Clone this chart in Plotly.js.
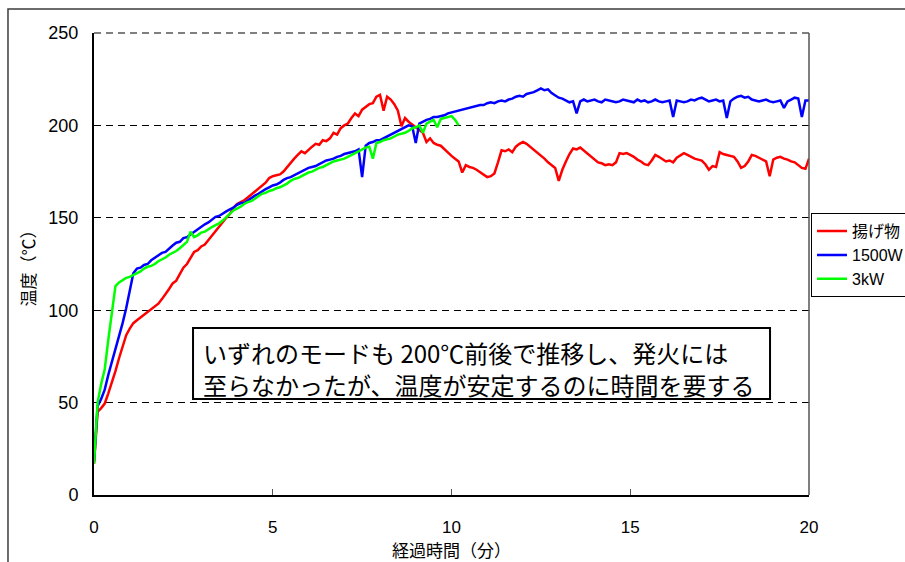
<!DOCTYPE html>
<html>
<head>
<meta charset="utf-8">
<script src="https://cdn.plot.ly/plotly-3.0.1.min.js"></script>
<style>
  html, body { margin: 0; padding: 0; background: #fff; }
  #chart { width: 905px; height: 562px; }
</style>
</head>
<body>
<div id="chart"></div>
<script>
// Temperature log sampled every 0.1 minute
const sampleStep = 0.1;

const seriesNames = ['揚げ物', '1500W', '3kW'];
const seriesColors = ['#ff0000', '#0000ff', '#00ff00'];

// 揚げ物 (0.0 – 20.0 min)
const tempFried = [
  17, 45, 47, 49.5, 55, 60.5, 67, 74, 80, 86.5,
  90, 93, 94.5, 96, 97, 98.5, 100, 101.5, 103.5, 106,
  108.5, 111.5, 114.5, 116, 119.5, 123, 125, 128, 131.5, 132.5,
  134.5, 135.5, 138, 140.5, 142.5, 145, 147.5, 150, 152, 155.5,
  157.5, 158.5, 159.5, 161, 162.5, 164.5, 166, 167.5, 169, 171.5,
  172.5, 173, 173.5, 175, 177.5, 179.5, 182, 184, 186, 185,
  187, 188.5, 190, 189.5, 192, 191.5, 193, 196, 195, 198.5,
  200, 201, 204, 206.5, 205, 208.5, 210, 211.5, 212, 215.5,
  216.5, 208, 215.5, 214, 211.5, 208, 199.5, 204, 202, 200.5,
  199, 197, 196, 191, 193, 190.5, 189.5, 189, 187, 185.5,
  183.5, 182, 180.5, 174.5, 178.5, 177.5, 177, 176, 174.5, 173,
  172, 172.5, 174, 180, 186.5, 186, 187, 185.5, 188.5, 190,
  191, 190, 188.5, 187, 185, 183.5, 182, 180, 178.5, 177,
  170, 176, 180.5, 184.5, 187.5, 187, 188, 186.5, 185, 183.5,
  182, 180, 179.5, 178.5, 179, 178.5, 180, 185, 184.5, 185,
  184, 183, 181.5, 180.5, 179, 178.5, 181, 184, 183, 181.5,
  180.5, 181, 180, 182.5, 184, 185, 184, 183, 182, 181.5,
  181, 179, 176, 178, 177.5, 185.5, 184.5, 184, 183.5, 183,
  180.5, 177, 178, 180.5, 184, 183.5, 182.5, 181.5, 180.5, 172.5,
  181.5, 182.5, 183, 182, 181.5, 180.5, 180, 178.5, 177, 176.5,
  182
];

// 1500W (0.0 – 20.0 min)
const temp1500W = [
  18, 48, 52, 57, 65, 72, 78, 85, 93, 101,
  111, 120, 122.5, 123, 124.5, 125, 127, 128.5, 129.5, 131,
  131.5, 133.5, 135, 136.5, 137, 139, 139.5, 141, 142.5, 144,
  145, 146.5, 147.5, 149, 150.5, 151, 152.5, 153.5, 154.5, 155.5,
  157, 158, 158, 159.5, 161, 162, 163, 164.5, 165.5, 166.5,
  167.5, 168, 169, 170.5, 171.5, 172, 173, 174, 175, 176,
  177, 177.5, 178, 179, 180, 181, 181.5, 182, 183, 183.5,
  184.5, 185, 185.5, 186, 187, 172, 189, 190.5, 191, 192,
  192, 193, 194, 195, 196, 197, 198, 199, 200, 199.5,
  190.5, 201, 202, 203, 203.5, 204.5, 204.5, 205, 205.5, 206.5,
  207, 207.5, 208, 208.5, 209, 209.5, 210, 210.5, 211, 211,
  212, 212.5, 212, 213, 213.5, 213, 214, 214.5, 215.5, 216,
  215.5, 217, 217.5, 218, 219, 220, 219, 219.5, 217.5, 216,
  215, 214.5, 213.5, 212.5, 213, 206.5, 213, 214, 213, 213.5,
  214, 213, 212.5, 214, 213.5, 213, 212.5, 213, 214, 213.5,
  213, 212.5, 214, 213, 213.5, 212.5, 213, 214, 213, 212.5,
  213, 213.5, 204.5, 213.5, 213, 212.5, 213, 214, 213.5, 214.5,
  215, 214, 213, 213.5, 214, 213, 213.5, 204, 213, 214.5,
  215.5, 216, 215, 215.5, 214, 213.5, 213, 213.5, 214, 213,
  212.5, 213, 213.5, 209.5, 213, 214, 215, 214.5, 204.5, 213.5,
  213.5
];

// 3kW (0.0 – 10.2 min)
const temp3kW = [
  17, 50, 60, 68, 84, 98, 113, 115, 116.5, 117.5,
  118, 119, 120, 121, 122.5, 123.5, 124, 125, 126.5, 127.5,
  128.5, 130, 131, 132, 133.5, 135.5, 137, 142.5, 139.5, 140.5,
  142, 142.5, 144, 145, 146, 147, 148.5, 150.5, 152.5, 154,
  155, 156, 157.5, 158.5, 159, 160.5, 162, 163, 163.5, 164.5,
  165, 166, 166.5, 167.5, 168.5, 170, 171, 171.5, 172.5, 173.5,
  174.5, 175, 176, 177, 177.5, 178.5, 179.5, 180.5, 181, 181.5,
  182, 183, 184, 185, 186, 187, 188, 188.5, 182, 190.5,
  191, 192, 192.5, 193, 194, 195, 195.5, 196, 197, 198.5,
  199, 200, 196, 201, 202, 203, 199, 203.5, 204, 204.5,
  205, 203, 200
];

const xTickVals = [0, 5, 10, 15, 20];
const yTickVals = [0, 50, 100, 150, 200, 250];

const noteLines = [
  'いずれのモードも 200℃前後で推移し、発火には',
  '至らなかったが、温度が安定するのに時間を要する'
];

const cjk = '"Noto Sans CJK JP", "Noto Sans CJK SC", sans-serif';
const latin = '"Liberation Sans", Arial, "Noto Sans CJK JP", sans-serif';

const traces = [tempFried, temp1500W, temp3kW].map((vals, i) => ({
  type: 'scatter',
  mode: 'lines',
  name: seriesNames[i],
  x0: 0,
  dx: sampleStep,
  y: vals,
  line: { color: seriesColors[i], width: 2.5 },
  hoverinfo: 'skip'
}));

const dashed = '7px,5px';

// each note line is its own annotation, stacked inside the boxed area
const noteY = [0.3095, 0.2392];
const noteAnnotations = noteLines.map((txt, i) => ({
  xref: 'paper', yref: 'paper', x: 0.1497, y: noteY[i],
  xanchor: 'left', yanchor: 'middle', align: 'left', showarrow: false,
  text: txt, font: { family: cjk, size: 24, color: '#000' }
}));

const layout = {
  width: 905,
  height: 562,
  margin: { l: 94, r: 96, t: 33, b: 67, autoexpand: false },
  paper_bgcolor: '#ffffff',
  plot_bgcolor: '#ffffff',
  font: { family: latin, size: 16, color: '#000' },
  showlegend: true,
  xaxis: {
    range: [0, 20],
    tickvals: xTickVals,
    ticks: 'inside',
    ticklen: 6,
    tickwidth: 1,
    tickcolor: '#555',
    showline: true,
    linecolor: '#000',
    linewidth: 2,
    showgrid: false,
    zeroline: false,
    tickfont: { family: latin, size: 17, color: '#000' },
    ticklabelstandoff: 16,
    title: { text: '経過時間（分）', font: { family: cjk, size: 17, color: '#000' }, standoff: 9 },
    fixedrange: true
  },
  yaxis: {
    range: [0, 250],
    tickvals: yTickVals,
    ticks: '',
    showline: true,
    linecolor: '#000',
    linewidth: 2,
    showgrid: true,
    gridcolor: '#000',
    gridwidth: 1,
    griddash: dashed,
    zeroline: false,
    tickfont: { family: latin, size: 18, color: '#000' },
    ticklabelstandoff: 10,
    title: { text: '温度（℃）', font: { family: cjk, size: 17, color: '#000' }, standoff: 8 },
    fixedrange: true
  },
  legend: {
    x: 1.0028,
    y: 0.61,
    xanchor: 'left',
    yanchor: 'top',
    bgcolor: '#ffffff',
    bordercolor: '#000',
    borderwidth: 1,
    font: { family: latin, size: 16, color: '#000' },
    tracegroupgap: 0,
    entrywidth: 110
  },
  shapes: [
    // top edge of the plot area (dashed like the grid)
    { type: 'line', xref: 'paper', yref: 'paper', x0: 0, x1: 1, y0: 1, y1: 1,
      line: { color: '#000', width: 1, dash: dashed } },
    // right edge of the plot area
    { type: 'line', xref: 'paper', yref: 'paper', x0: 1, x1: 1, y0: 0, y1: 1,
      line: { color: '#555', width: 1.5 } },
    // outer chart frame
    { type: 'rect', xref: 'paper', yref: 'paper', x0: -0.1203, x1: 1.25, y0: -0.3, y1: 1.052,
      line: { color: '#3c3c3c', width: 1.5 }, fillcolor: 'rgba(0,0,0,0)' },
    // note box
    { type: 'rect', xref: 'paper', yref: 'paper', x0: 0.1385, x1: 0.9455, y0: 0.2078, y1: 0.3615,
      line: { color: '#000', width: 2 }, fillcolor: '#ffffff', layer: 'above' }
  ],
  annotations: noteAnnotations
};

Plotly.newPlot('chart', traces, layout, { staticPlot: true, displayModeBar: false });
</script>
</body>
</html>
